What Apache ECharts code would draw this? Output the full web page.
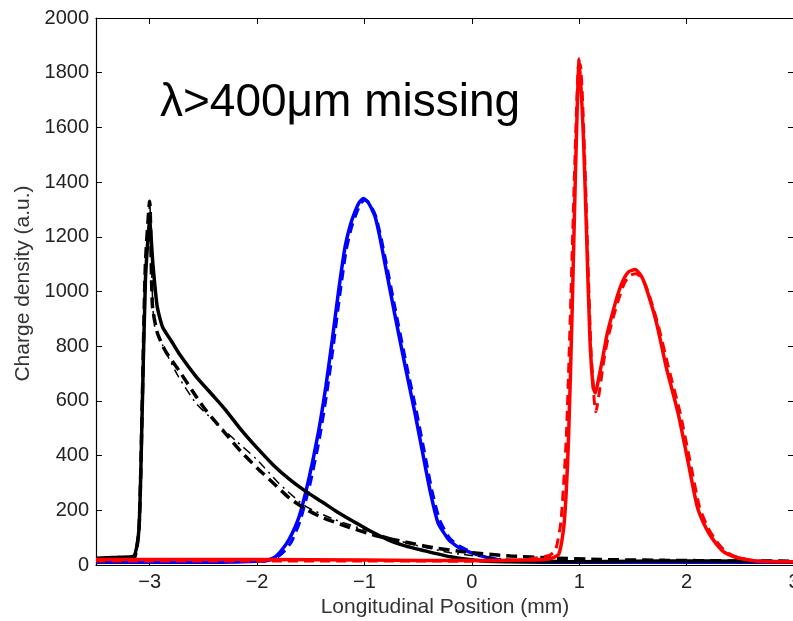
<!DOCTYPE html>
<html>
<head>
<meta charset="utf-8">
<script src="https://cdn.jsdelivr.net/npm/echarts@6/dist/echarts.min.js"></script>
<style>
  html, body { margin: 0; padding: 0; background: #fff; }
  #chart { width: 793px; height: 621px; }
</style>
</head>
<body>
<div id="chart"></div>
<script>
// 横坐标刻度
const xTicks = [-3, -2, -1, 0, 1, 2, 3]

// 黑色 实线
const blackSolidX = [-3.5, -3.3, -3.15, -3.1, -3.07, -3.04, -3.0, -2.97, -2.93, -2.88, -2.8, -2.73, -2.57, -2.4, -2.3, -2.15, -2.0, -1.85, -1.7, -1.55, -1.4, -1.25, -1.08, -0.95, -0.78, -0.62, -0.47, -0.2, 0.1, 0.5, 1.0, 1.5, 2.0, 2.5, 3.0]
const blackSolidY = [25, 28, 32, 130, 560, 1040, 1255, 1100, 945, 870, 820, 775, 690, 615, 570, 495, 428, 366, 314, 270, 232, 193, 154, 125, 92, 70, 55, 30, 15, 12, 12, 14, 15, 14, 12]

// 黑色 虚线
const blackDashX = [-3.5, -3.3, -3.15, -3.1, -3.07, -3.04, -3.0, -2.975, -2.93, -2.85, -2.73, -2.6, -2.48, -2.3, -2.15, -2.0, -1.85, -1.7, -1.55, -1.4, -1.15, -0.9, -0.62, -0.35, -0.07, 0.36, 0.73, 1.2, 1.8, 2.4, 3.0]
const blackDashY = [15, 15, 20, 130, 580, 1100, 1330, 950, 850, 780, 713, 635, 567, 483, 415, 355, 300, 245, 205, 175, 139, 108, 84, 63, 48, 33, 26, 20, 17, 15, 14]

// 黑色 点划线
const blackDotX = [-3.15, -3.1, -3.07, -3.04, -3.0, -2.96, -2.85, -2.73, -2.57, -2.41, -2.2, -2.0, -1.8, -1.55, -1.27, -0.99, -0.6, -0.2, 0.3, 1.0, 2.0, 3.0]
const blackDotY = [25, 130, 570, 1080, 1320, 885, 779, 687, 592, 530, 455, 385, 300, 215, 165, 128, 80, 45, 22, 15, 12, 10]

// 蓝色
const blueSolidX = [-3.5, -2.5, -1.95, -1.85, -1.78, -1.7, -1.61, -1.52, -1.43, -1.36, -1.30, -1.24, -1.18, -1.13, -1.09, -1.05, -1.01, -0.97, -0.93, -0.90, -0.86, -0.81, -0.72, -0.62, -0.53, -0.44, -0.38, -0.315, -0.22, -0.13, 0.056, 0.3, 1.0, 2.0, 3.0]
const blueSolidY = [10, 10, 15, 25, 50, 95, 175, 311, 483, 652, 823, 1005, 1164, 1245, 1290, 1325, 1340, 1328, 1300, 1272, 1205, 1104, 921, 725, 556, 373, 255, 154, 95, 66, 37, 15, 10, 10, 10]
const blueDashX = [-1.95, -1.84, -1.76, -1.68, -1.6, -1.51, -1.42, -1.35, -1.29, -1.23, -1.17, -1.12, -1.08, -1.04, -1.0, -0.96, -0.92, -0.89, -0.85, -0.8, -0.71, -0.61, -0.52, -0.43, -0.37, -0.3, -0.21, -0.12, 0.06, 0.3]
const blueDashY = [12, 22, 45, 85, 160, 290, 460, 630, 800, 985, 1150, 1235, 1280, 1318, 1335, 1325, 1298, 1270, 1205, 1110, 930, 735, 570, 390, 270, 165, 100, 70, 38, 15]

// 红色
const redSolidX = [-3.5, -2, -1, 0, 0.5, 0.72, 0.81, 0.86, 0.9, 0.935, 0.965, 1.0, 1.04, 1.07, 1.1, 1.13, 1.15, 1.18, 1.22, 1.26, 1.31, 1.36, 1.41, 1.46, 1.52, 1.58, 1.63, 1.72, 1.81, 1.92, 2.01, 2.1, 2.18, 2.25, 2.34, 2.44, 2.64, 3.0]
const redSolidY = [20, 20, 18, 16, 18, 22, 40, 153, 457, 944, 1433, 1850, 1554, 1188, 823, 650, 629, 680, 760, 845, 921, 990, 1042, 1072, 1080, 1055, 1005, 885, 724, 556, 384, 212, 135, 91, 50, 30, 15, 12]
const redDashX = [-3.5, -2, -1, 0, 0.5, 0.72, 0.78, 0.83, 0.88, 0.92, 0.955, 0.99, 1.01, 1.05, 1.08, 1.11, 1.14, 1.155, 1.19, 1.23, 1.27, 1.32, 1.37, 1.42, 1.47, 1.53, 1.59, 1.64, 1.73, 1.83, 1.94, 2.03, 2.12, 2.2, 2.27, 2.36, 2.46, 2.64, 3.0]
const redDashY = [15, 15, 15, 14, 20, 35, 55, 160, 470, 950, 1420, 1820, 1830, 1500, 1120, 780, 600, 560, 640, 750, 835, 910, 975, 1030, 1058, 1065, 1045, 1000, 885, 724, 556, 384, 212, 135, 91, 50, 30, 15, 12]

const pairs = (xs, ys) => xs.map((x, i) => [x, ys[i]])
const fmtMinus = v => (v < 0 ? '\u2212' + Math.abs(v) : String(v))

const FONT = '"Liberation Sans", Arial, Helvetica, sans-serif'

const mkLine = (name, xs, ys, color, type, width) => ({
  name,
  type: 'line',
  data: pairs(xs, ys),
  smooth: 0.2,
  symbol: 'none',
  silent: true,
  lineStyle: { color, width, type }
})

const chart = echarts.init(document.getElementById('chart'))

const option = {
  animation: false,
  backgroundColor: '#fff',
  grid: { left: 96, right: -1, top: 18, bottom: 56, outerBoundsMode: 'none' },
  xAxis: [
    {
      type: 'value',
      min: -3.5,
      max: 3,
      name: 'Longitudinal Position (mm)',
      nameLocation: 'middle',
      nameGap: 30,
      nameTextStyle: { color: '#333', fontSize: 21, fontFamily: FONT },
      axisLine: { lineStyle: { color: '#000', width: 1.2 } },
      axisTick: { inside: true, length: 6, customValues: xTicks, lineStyle: { color: '#000' } },
      axisLabel: {
        customValues: xTicks,
        formatter: fmtMinus,
        showMaxLabel: true,
        hideOverlap: false,
        color: '#222',
        fontSize: 20,
        fontFamily: FONT,
        margin: 7
      },
      splitLine: { show: false }
    },
    {
      type: 'value',
      position: 'top',
      min: -3.5,
      max: 3,
      axisLine: { onZero: false, lineStyle: { color: '#000', width: 1.2 } },
      axisTick: { inside: true, length: 6, customValues: xTicks, lineStyle: { color: '#000' } },
      axisLabel: { show: false },
      splitLine: { show: false }
    }
  ],
  yAxis: [
    {
      type: 'value',
      min: 0,
      max: 2000,
      interval: 200,
      name: 'Charge density (a.u.)',
      nameLocation: 'middle',
      nameGap: 62,
      nameTextStyle: { color: '#333', fontSize: 21, fontFamily: FONT, padding: [0, 0, 0, 16] },
      axisLine: { show: true, onZero: false, lineStyle: { color: '#000', width: 1.2 } },
      axisTick: { show: true, inside: true, length: 6, lineStyle: { color: '#000' } },
      axisLabel: { formatter: v => String(v), color: '#222', fontSize: 20, fontFamily: FONT, margin: 7 },
      splitLine: { show: false }
    },
    {
      type: 'value',
      position: 'right',
      min: 0,
      max: 2000,
      interval: 200,
      axisLine: { show: true, onZero: false, lineStyle: { color: '#000', width: 1.2 } },
      axisTick: { show: true, inside: true, length: 6, lineStyle: { color: '#000' } },
      axisLabel: { show: false },
      splitLine: { show: false }
    }
  ],
  graphic: [
    {
      type: 'text',
      left: 160,
      top: 80,
      silent: true,
      style: {
        text: 'λ>400μm missing',
        fill: '#000',
        font: '46px ' + FONT
      }
    }
  ],
  series: [
    mkLine('blue dash', blueDashX, blueDashY, '#0000ff', [10, 6], 3),
    mkLine('blue', blueSolidX, blueSolidY, '#0000ff', 'solid', 3.5),
    mkLine('black dashdot', blackDotX, blackDotY, '#000', [9, 5, 2, 5], 1.5),
    mkLine('black dash', blackDashX, blackDashY, '#000', [11, 6], 3.5),
    mkLine('black', blackSolidX, blackSolidY, '#000', 'solid', 3.5),
    mkLine('red dash', redDashX, redDashY, '#ff0000', [10, 6], 3),
    mkLine('red', redSolidX, redSolidY, '#ff0000', 'solid', 3.5)
  ]
}

chart.setOption(option)
</script>
</body>
</html>
